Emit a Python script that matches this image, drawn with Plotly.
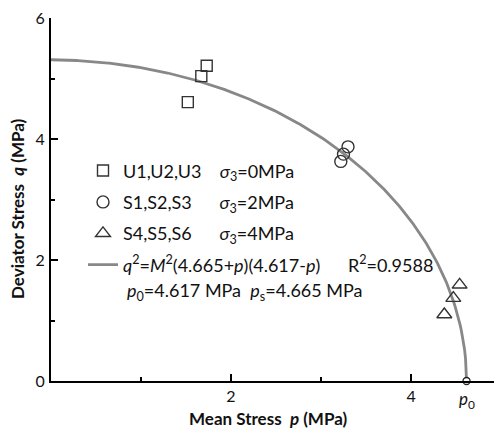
import numpy as np
import plotly.graph_objects as go

# ---- data ----
u_p = [1.52, 1.67, 1.73]
u_q = [4.61, 5.04, 5.21]
s1_p = [3.22, 3.25, 3.30]
s1_q = [3.63, 3.75, 3.87]
s2_p = [4.37, 4.47, 4.54]
s2_q = [1.10, 1.37, 1.59]

# fitted envelope  q^2 = M^2 (ps + p)(p0 - p)
M2 = 1.309
ps = 4.665
p0 = 4.617
p_curve = np.linspace(0, p0, 400)
q_curve = np.sqrt(np.clip(M2 * (ps + p_curve) * (p0 - p_curve), 0, None))

FONT = "Lato"
NB = "\u00a0"
TXT = "#111"

fig = go.Figure()

fig.add_trace(go.Scatter(
    x=p_curve, y=q_curve, mode="lines", legendgroup="d", legendrank=4,
    name="<i>q</i><sup>2</sup>=<i>M</i><sup>2</sup>(4.665+<i>p</i>)(4.617-<i>p</i>)"
         + NB * 6 + "R<sup>2</sup>=0.9588",
    line=dict(color="#888888", width=2.8),
))
fig.add_trace(go.Scatter(
    x=u_p, y=u_q, mode="markers", legendgroup="a", legendrank=1,
    name="U1,U2,U3" + NB * 4 + "<i>σ</i><sub>3</sub>=0MPa",
    marker=dict(symbol="square-open", size=11, color="#333",
                line=dict(width=1.4, color="#333")),
))
fig.add_trace(go.Scatter(
    x=s1_p, y=s1_q, mode="markers", legendgroup="b", legendrank=2,
    name="S1,S2,S3" + NB * 6 + "<i>σ</i><sub>3</sub>=2MPa",
    marker=dict(symbol="circle-open", size=12, color="#333",
                line=dict(width=1.4, color="#333")),
))
fig.add_trace(go.Scatter(
    x=s2_p, y=s2_q, mode="markers", legendgroup="c", legendrank=3,
    name="S4,S5,S6" + NB * 6 + "<i>σ</i><sub>3</sub>=4MPa",
    marker=dict(symbol="triangle-up-open", size=13, color="#333",
                line=dict(width=1.4, color="#333")),
))
# p0 marker on the axis
fig.add_trace(go.Scatter(
    x=[p0], y=[0], mode="markers", showlegend=False, cliponaxis=False,
    marker=dict(symbol="circle", size=7, color="white",
                line=dict(width=1.3, color="#222")),
))

fig.add_annotation(x=p0, y=0, xref="x", yref="y", yanchor="top", yshift=-5,
                   text="<i>p</i><sub>0</sub>", showarrow=False,
                   font=dict(family=FONT, size=17, color=TXT))
fig.add_annotation(x=(125 - 51) / 443, y=(381 - 291) / 363, xref="paper", yref="paper",
                   xanchor="left", yanchor="middle",
                   text="<i>p</i><sub>0</sub>=4.617 MPa" + NB * 2 + "<i>p</i><sub>s</sub>=4.665 MPa",
                   showarrow=False, font=dict(family=FONT, size=18, color=TXT))
# axis titles
fig.add_annotation(x=(268 - 51) / 443, y=-37 / 363, xref="paper", yref="paper",
                   xanchor="center", yanchor="middle", showarrow=False,
                   text="<b>Mean Stress  <i>p</i> (MPa)</b>",
                   font=dict(family=FONT, size=17, color=TXT))
fig.add_annotation(x=-34 / 443, y=(381 - 209) / 363, xref="paper", yref="paper",
                   xanchor="center", yanchor="middle", showarrow=False, textangle=-90,
                   text="<b>Deviator Stress  <i>q</i> (MPa)</b>",
                   font=dict(family=FONT, size=17, color=TXT))

fig.update_layout(
    width=494, height=428,
    margin=dict(l=51, r=0, t=18, b=47, autoexpand=False),
    plot_bgcolor="white", paper_bgcolor="white",
    font=dict(family=FONT, size=16, color=TXT),
    showlegend=True,
    legend=dict(x=(83 - 51) / 443, xanchor="left", y=0.63, yanchor="top",
                bgcolor="rgba(0,0,0,0)", font=dict(family=FONT, size=18, color=TXT),
                traceorder="grouped", tracegroupgap=5),
    xaxis=dict(
        range=[0, 4.922], tickvals=[2, 4], ticks="inside", ticklen=7, tickwidth=2,
        tickcolor="black", showline=True, linewidth=2, linecolor="black",
        showgrid=False, zeroline=False, ticklabelstandoff=0, automargin=False,
        tickfont=dict(family=FONT, size=16, color=TXT),
        minor=dict(tickvals=[1, 3], ticks="inside", ticklen=4, tickwidth=2, tickcolor="black", showgrid=False),
    ),
    yaxis=dict(
        range=[0, 6], tickvals=[0, 2, 4, 6], ticks="inside", ticklen=7, tickwidth=2,
        tickcolor="black", showline=True, linewidth=2, linecolor="black",
        showgrid=False, zeroline=False, ticklabelstandoff=1, automargin=False,
        tickfont=dict(family=FONT, size=16, color=TXT),
        minor=dict(tickvals=[1, 3, 5], ticks="inside", ticklen=4, tickwidth=2, tickcolor="black", showgrid=False),
    ),
)

fig.write_html("out.html", config={"displayModeBar": False},
               post_script="document.body.style.margin='0';")
